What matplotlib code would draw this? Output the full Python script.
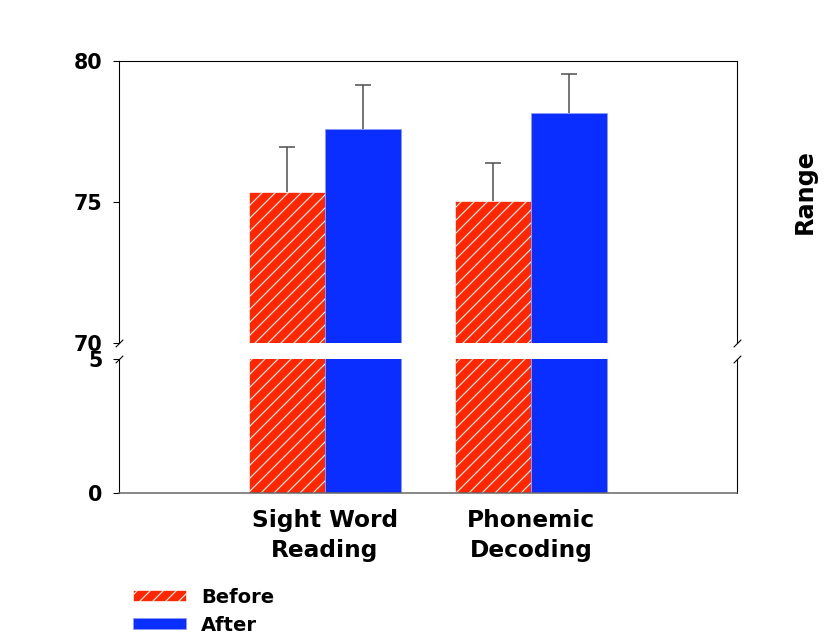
import numpy as np
import matplotlib
matplotlib.use("Agg")
import matplotlib.pyplot as plt
from matplotlib.patches import Patch

# reading scores before/after, with upper error bars
categories = ["Sight Word\nReading", "Phonemic\nDecoding"]
before = [75.35, 75.04]
after = [77.59, 78.16]
before_err = [1.60, 1.34]
after_err = [1.56, 1.38]

upper_ticks = [70, 75, 80]
lower_ticks = [0, 5]

RED = "#ff2600"
BLUE = "#0a2eff"
DPI = 78
W, H = 827, 637

plt.rcParams["font.family"] = ["DejaVu Sans"]
plt.rcParams["font.weight"] = "bold"
plt.rcParams["hatch.linewidth"] = 1.0

fig = plt.figure(figsize=(W / DPI, H / DPI), dpi=DPI)

def frac_box(left, top, right, bottom):
    return [left / W, 1 - bottom / H, (right - left) / W, (bottom - top) / H]

ax_hi = fig.add_axes(frac_box(119, 61, 737, 343))
ax_lo = fig.add_axes(frac_box(119, 359, 737, 493))

x = np.arange(len(categories))
width = 0.37

for ax in (ax_hi, ax_lo):
    ax.bar(x - width / 2, before, width, color=RED, edgecolor="white",
           hatch="//", linewidth=0.6, zorder=2)
    ax.bar(x + width / 2, after, width, color=BLUE, edgecolor="#8c9cff",
           linewidth=0.6, zorder=2)
    ax.set_xlim(-1, 2)
    for s in ax.spines.values():
        s.set_linewidth(1.0)
        s.set_color("black")
    ax.tick_params(axis="y", direction="out", length=6, width=1,
                   labelsize=19, pad=9)

# upper half of the error bars only, no cap at the bar top
for pos, vals, errs in ((x - width / 2, before, before_err), (x + width / 2, after, after_err)):
    eb = ax_hi.errorbar(pos, vals, yerr=[np.zeros(len(vals)), errs], fmt="none",
                        ecolor="#4d4d4d", elinewidth=1.4, capsize=7.5,
                        capthick=1.4, zorder=3)
    eb[1][0].set_visible(False)

ax_hi.set_ylim(70, 80)
ax_hi.set_yticks(upper_ticks)
ax_hi.spines["bottom"].set_visible(False)
ax_hi.set_xticks([])

ax_lo.set_ylim(0, 5)
ax_lo.set_yticks(lower_ticks)
ax_lo.spines["top"].set_visible(False)
ax_lo.spines["bottom"].set_color("#666666")
ax_lo.spines["bottom"].set_linewidth(1.4)
ax_lo.set_xticks(x)
ax_lo.set_xticklabels(categories, fontsize=21.5, fontweight="bold", linespacing=1.38)
ax_lo.tick_params(axis="x", length=0, pad=15)

# break marks on both side spines
brk = dict(marker=[(-1, -1), (1, 1)], markersize=7, linestyle="none",
           color="black", mec="black", mew=1, clip_on=False)
ax_hi.plot([0, 1], [0, 0], transform=ax_hi.transAxes, **brk)
ax_lo.plot([0, 1], [1, 1], transform=ax_lo.transAxes, **brk)

handles = [Patch(facecolor=RED, edgecolor="white", hatch="//", linewidth=0.6, label="Before"),
           Patch(facecolor=BLUE, edgecolor="#8c9cff", linewidth=0.6, label="After")]
fig.legend(handles=handles, loc="upper left", bbox_to_anchor=(125 / W, 1 - 580 / H),
           frameon=False, handlelength=2.75, handleheight=0.5,
           handletextpad=0.75, labelspacing=0.45, borderaxespad=0,
           prop={"weight": "bold", "size": 18})

fig.text(805 / W, 1 - 192 / H, "Range", rotation=90, fontsize=22,
         fontweight="bold", ha="center", va="center")

fig.savefig("out.png", dpi=DPI)
